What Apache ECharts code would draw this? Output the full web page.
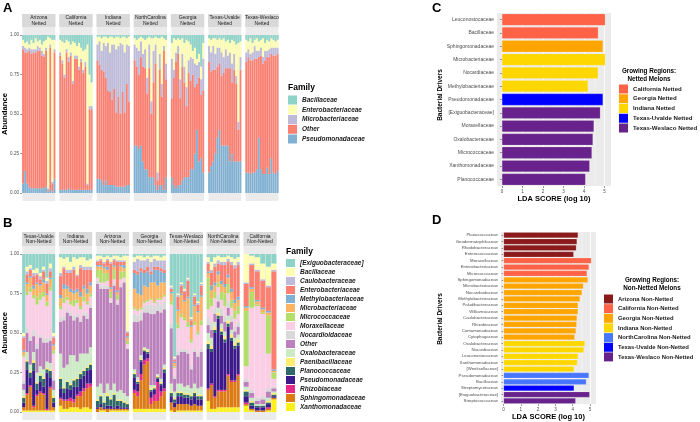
<!DOCTYPE html>
<html><head><meta charset="utf-8">
<script src="https://cdn.jsdelivr.net/npm/echarts@6/dist/echarts.min.js"></script>
<style>html,body{margin:0;padding:0;background:#fff}#c{width:700px;height:422px}</style>
</head><body><div id="c"></div><script>
// ---------- Panel A data: each bar = [Bacillaceae, Enterobacteriaceae, Microbacteriaceae, Other, Pseudomonadaceae]
const familiesA = ['Bacillaceae','Enterobacteriaceae','Microbacteriaceae','Other','Pseudomonadaceae'];
const colorsA = ['#8DD3C7','#FFFFB3','#BEBADA','#FB8072','#80B1D3'];
const facetsA = ['Arizona\nNetted','California\nNetted','Indiana\nNetted','NorthCarolina\nNetted','Georgia\nNetted','Texas-Uvalde\nNetted','Texas-Weslaco\nNetted'];
const aArizona = [[0.03,0.04,0.02,0.85,0.06],[0.05,0.03,0.03,0.75,0.14],[0.04,0.05,0.02,0.83,0.06],[0.06,0.02,0.02,0.86,0.04],[0.03,0.06,0.03,0.85,0.03],[0.05,0.04,0.02,0.86,0.03],[0.02,0.07,0.02,0.86,0.03],[0.04,0.03,0.03,0.87,0.03],[0.03,0.05,0.02,0.87,0.03],[0.06,0.04,0.03,0.84,0.03],[0.04,0.08,0.02,0.83,0.03],[0.03,0.05,0.02,0.86,0.04],[0.01,0.96,0.01,0.01,0.01],[0.02,0.04,0.02,0.90,0.02],[0.03,0.90,0.01,0.05,0.01],[0.03,0.06,0.02,0.80,0.09]];
const aCalifornia = [[0.03,0.08,0.02,0.85,0.02],[0.04,0.12,0.02,0.80,0.02],[0.05,0.20,0.02,0.71,0.02],[0.03,0.06,0.02,0.87,0.02],[0.04,0.10,0.03,0.80,0.03],[0.06,0.05,0.02,0.85,0.02],[0.04,0.25,0.02,0.67,0.02],[0.05,0.08,0.02,0.83,0.02],[0.07,0.06,0.02,0.83,0.02],[0.05,0.15,0.02,0.76,0.02],[0.08,0.07,0.02,0.81,0.02],[0.10,0.12,0.02,0.74,0.02],[0.09,0.08,0.03,0.78,0.02],[0.06,0.88,0.01,0.03,0.02],[0.25,0.20,0.02,0.51,0.02],[0.30,0.15,0.02,0.51,0.02]];
const aIndiana = [[0.01,0.05,0.10,0.75,0.09],[0.01,0.03,0.15,0.72,0.09],[0.02,0.08,0.12,0.70,0.08],[0.01,0.04,0.18,0.72,0.05],[0.01,0.06,0.20,0.65,0.08],[0.02,0.03,0.30,0.60,0.05],[0.01,0.10,0.25,0.59,0.05],[0.01,0.05,0.35,0.54,0.05],[0.02,0.04,0.28,0.61,0.05],[0.01,0.08,0.40,0.47,0.04],[0.01,0.06,0.32,0.57,0.04],[0.02,0.03,0.45,0.46,0.04],[0.01,0.05,0.30,0.60,0.04],[0.01,0.10,0.38,0.47,0.04],[0.02,0.04,0.25,0.64,0.05],[0.01,0.06,0.35,0.53,0.05]];
const aNorthCarolina = [[0.02,0.04,0.10,0.54,0.30],[0.03,0.05,0.12,0.50,0.30],[0.02,0.08,0.15,0.47,0.28],[0.01,0.03,0.10,0.56,0.30],[0.02,0.10,0.08,0.60,0.20],[0.03,0.06,0.12,0.64,0.15],[0.02,0.25,0.10,0.48,0.15],[0.01,0.05,0.15,0.69,0.10],[0.02,0.40,0.08,0.40,0.10],[0.02,0.08,0.20,0.60,0.10],[0.01,0.05,0.12,0.77,0.05],[0.02,0.85,0.05,0.06,0.02],[0.02,0.10,0.10,0.73,0.05],[0.01,0.30,0.08,0.56,0.05],[0.02,0.05,0.03,0.88,0.02],[0.03,0.15,0.10,0.62,0.10]];
const aGeorgia = [[0.05,0.10,0.25,0.50,0.10],[0.02,0.20,0.05,0.68,0.05],[0.03,0.08,0.06,0.80,0.03],[0.02,0.05,0.05,0.83,0.05],[0.03,0.25,0.12,0.55,0.05],[0.02,0.10,0.08,0.72,0.08],[0.05,0.15,0.10,0.60,0.10],[0.03,0.30,0.12,0.45,0.10],[0.04,0.12,0.08,0.66,0.10],[0.06,0.08,0.15,0.56,0.15],[0.10,0.05,0.10,0.60,0.15],[0.08,0.10,0.15,0.42,0.25],[0.15,0.04,0.12,0.29,0.40],[0.12,0.05,0.10,0.53,0.20],[0.20,0.08,0.10,0.40,0.22],[0.05,0.10,0.20,0.52,0.13]];
const aTexasUvalde = [[0.02,0.05,0.10,0.70,0.13],[0.03,0.08,0.12,0.60,0.17],[0.02,0.05,0.15,0.58,0.20],[0.02,0.10,0.10,0.53,0.25],[0.03,0.05,0.12,0.45,0.35],[0.02,0.06,0.10,0.42,0.40],[0.03,0.08,0.15,0.44,0.30],[0.02,0.12,0.10,0.46,0.30],[0.04,0.05,0.12,0.49,0.30],[0.03,0.10,0.08,0.49,0.30],[0.05,0.06,0.10,0.59,0.20],[0.03,0.15,0.12,0.45,0.25],[0.04,0.08,0.10,0.58,0.20],[0.06,0.20,0.05,0.49,0.20],[0.05,0.50,0.05,0.20,0.20],[0.04,0.10,0.08,0.58,0.20]];
const aTexasWeslaco = [[0.03,0.08,0.06,0.70,0.13],[0.04,0.05,0.05,0.73,0.13],[0.02,0.10,0.04,0.72,0.12],[0.05,0.06,0.05,0.71,0.13],[0.03,0.04,0.08,0.72,0.13],[0.02,0.08,0.05,0.70,0.15],[0.04,0.06,0.04,0.51,0.35],[0.03,0.05,0.05,0.72,0.15],[0.02,0.12,0.04,0.70,0.12],[0.05,0.05,0.06,0.72,0.12],[0.03,0.07,0.04,0.70,0.16],[0.04,0.05,0.05,0.74,0.12],[0.02,0.06,0.04,0.66,0.22],[0.03,0.05,0.05,0.74,0.13],[0.04,0.04,0.05,0.75,0.12],[0.03,0.05,0.04,0.74,0.14]];

// ---------- Panel B data: each bar = values in familiesB order
const familiesB = ['[Exiguobacteraceae]','Bacillaceae','Caulobacteraceae','Enterobacteriaceae','Methylobacteriaceae','Microbacteriaceae','Micrococcaceae','Moraxellaceae','Nocardioidaceae','Other','Oxalobacteraceae','Paenibacillaceae','Planococcaceae','Pseudomonadaceae','Rhizobiaceae','Sphingomonadaceae','Xanthomonadaceae'];
const colorsB = ['#8DD3C7','#FFFFB3','#BEBADA','#FB8072','#80B1D3','#FDB462','#B3DE69','#FCCDE5','#D9D9D9','#BC80BD','#CCEBC5','#FFED6F','#2F6868','#3D1A8C','#E7298A','#DE7A13','#FCF11A'];
const facetsB = ['Texas-Uvalde\nNon-Netted','Indiana\nNon-Netted','Arizona\nNon-Netted','Georgia\nNon-Netted','Texas-Weslaco\nNon-Netted','NorthCarolina\nNon-Netted','California\nNon-Netted'];
const bTexasUvalde = [
[0.50,0.02,0.01,0.08,0.01,0.02,0.01,0.15,0.02,0.04,0.04,0.01,0.03,0.03,0.00,0.02,0.01],
[0.08,0.03,0.02,0.05,0.01,0.05,0.02,0.20,0.04,0.12,0.05,0.01,0.05,0.15,0.01,0.10,0.01],
[0.07,0.02,0.01,0.04,0.01,0.06,0.03,0.28,0.03,0.15,0.04,0.01,0.03,0.05,0.01,0.15,0.01],
[0.10,0.02,0.02,0.06,0.02,0.04,0.02,0.20,0.04,0.10,0.05,0.02,0.05,0.22,0.01,0.02,0.01],
[0.09,0.03,0.01,0.05,0.01,0.08,0.05,0.25,0.03,0.15,0.06,0.01,0.04,0.03,0.01,0.09,0.01],
[0.12,0.02,0.02,0.03,0.01,0.05,0.04,0.22,0.02,0.18,0.05,0.01,0.04,0.06,0.01,0.11,0.01],
[0.08,0.02,0.01,0.05,0.02,0.06,0.03,0.26,0.03,0.17,0.05,0.01,0.05,0.04,0.01,0.10,0.01],
[0.15,0.02,0.02,0.06,0.01,0.04,0.03,0.20,0.03,0.12,0.04,0.01,0.02,0.23,0.01,0.00,0.01],
[0.06,0.03,0.02,0.04,0.01,0.05,0.02,0.30,0.02,0.14,0.04,0.01,0.04,0.06,0.01,0.14,0.01],
[0.50,0.02,0.01,0.04,0.01,0.03,0.02,0.15,0.02,0.06,0.04,0.01,0.03,0.03,0.00,0.02,0.01]];
const bIndiana = [
[0.02,0.10,0.02,0.12,0.02,0.05,0.02,0.05,0.03,0.20,0.15,0.01,0.06,0.06,0.01,0.04,0.04],
[0.03,0.05,0.01,0.10,0.03,0.06,0.03,0.08,0.03,0.30,0.12,0.01,0.03,0.04,0.01,0.05,0.02],
[0.02,0.08,0.02,0.08,0.02,0.05,0.02,0.06,0.02,0.33,0.10,0.01,0.04,0.07,0.01,0.05,0.02],
[0.05,0.05,0.02,0.10,0.02,0.06,0.02,0.05,0.02,0.25,0.18,0.01,0.03,0.05,0.02,0.04,0.03],
[0.02,0.06,0.02,0.13,0.02,0.04,0.04,0.06,0.03,0.22,0.15,0.01,0.04,0.08,0.02,0.03,0.03],
[0.03,0.10,0.01,0.08,0.02,0.05,0.02,0.07,0.02,0.28,0.10,0.01,0.05,0.05,0.01,0.07,0.03],
[0.02,0.05,0.02,0.15,0.03,0.06,0.02,0.06,0.02,0.20,0.12,0.01,0.03,0.08,0.03,0.08,0.02],
[0.02,0.06,0.02,0.10,0.02,0.05,0.03,0.07,0.02,0.24,0.10,0.01,0.03,0.08,0.02,0.10,0.03],
[0.04,0.04,0.02,0.12,0.03,0.05,0.02,0.06,0.03,0.22,0.08,0.01,0.02,0.08,0.03,0.12,0.03],
[0.03,0.05,0.02,0.08,0.02,0.05,0.02,0.05,0.02,0.25,0.10,0.01,0.03,0.09,0.02,0.14,0.02]];
const bArizona = [
[0.01,0.03,0.01,0.02,0.01,0.02,0.05,0.02,0.02,0.65,0.08,0.01,0.04,0.01,0.00,0.02,0.00],
[0.01,0.02,0.01,0.03,0.01,0.02,0.08,0.02,0.02,0.60,0.07,0.01,0.05,0.02,0.00,0.02,0.01],
[0.02,0.03,0.01,0.02,0.01,0.03,0.06,0.02,0.02,0.66,0.05,0.01,0.03,0.01,0.00,0.01,0.01],
[0.01,0.02,0.01,0.04,0.02,0.02,0.05,0.03,0.02,0.60,0.06,0.02,0.06,0.02,0.00,0.02,0.00],
[0.02,0.03,0.01,0.15,0.01,0.02,0.04,0.02,0.01,0.55,0.05,0.01,0.04,0.02,0.00,0.01,0.01],
[0.01,0.02,0.01,0.03,0.01,0.02,0.06,0.02,0.02,0.62,0.06,0.01,0.08,0.01,0.00,0.01,0.01],
[0.01,0.03,0.01,0.18,0.01,0.02,0.03,0.02,0.01,0.55,0.05,0.01,0.03,0.02,0.00,0.01,0.01],
[0.02,0.02,0.01,0.02,0.01,0.03,0.05,0.03,0.02,0.65,0.06,0.01,0.04,0.01,0.00,0.01,0.01],
[0.01,0.03,0.01,0.02,0.02,0.02,0.04,0.02,0.01,0.70,0.05,0.01,0.03,0.01,0.00,0.01,0.01],
[0.01,0.48,0.01,0.02,0.01,0.02,0.02,0.02,0.01,0.30,0.04,0.01,0.02,0.01,0.00,0.01,0.01]];
const bGeorgia = [
[0.02,0.03,0.05,0.02,0.10,0.12,0.01,0.03,0.05,0.30,0.02,0.01,0.02,0.08,0.02,0.10,0.02],
[0.01,0.02,0.08,0.02,0.12,0.10,0.01,0.03,0.04,0.35,0.02,0.01,0.01,0.05,0.03,0.08,0.02],
[0.01,0.03,0.05,0.02,0.15,0.08,0.01,0.02,0.05,0.22,0.02,0.01,0.01,0.08,0.04,0.18,0.02],
[0.02,0.02,0.06,0.02,0.08,0.10,0.01,0.02,0.04,0.22,0.01,0.01,0.01,0.05,0.03,0.28,0.02],
[0.01,0.02,0.05,0.03,0.10,0.08,0.01,0.02,0.05,0.23,0.01,0.01,0.01,0.03,0.02,0.30,0.02],
[0.02,0.03,0.06,0.02,0.05,0.10,0.01,0.03,0.06,0.45,0.02,0.01,0.01,0.04,0.04,0.03,0.02],
[0.01,0.02,0.05,0.02,0.08,0.12,0.01,0.02,0.05,0.45,0.01,0.01,0.01,0.03,0.04,0.05,0.02],
[0.01,0.03,0.04,0.02,0.10,0.08,0.01,0.02,0.05,0.40,0.01,0.01,0.01,0.02,0.12,0.05,0.02],
[0.02,0.02,0.05,0.02,0.07,0.10,0.01,0.03,0.05,0.42,0.02,0.01,0.01,0.04,0.03,0.08,0.02],
[0.01,0.03,0.06,0.02,0.06,0.08,0.01,0.03,0.05,0.35,0.02,0.01,0.02,0.10,0.02,0.11,0.02]];
const bTexasWeslaco = [
[0.20,0.01,0.01,0.02,0.01,0.05,0.02,0.12,0.03,0.35,0.05,0.01,0.02,0.04,0.00,0.05,0.01],
[0.65,0.01,0.01,0.01,0.01,0.02,0.01,0.05,0.02,0.08,0.04,0.01,0.02,0.03,0.00,0.03,0.00],
[0.25,0.01,0.01,0.08,0.01,0.08,0.03,0.15,0.02,0.18,0.05,0.01,0.02,0.05,0.00,0.04,0.01],
[0.18,0.01,0.01,0.05,0.01,0.12,0.02,0.20,0.02,0.20,0.05,0.01,0.02,0.05,0.00,0.04,0.01],
[0.22,0.01,0.01,0.05,0.01,0.10,0.02,0.18,0.02,0.22,0.04,0.01,0.02,0.04,0.00,0.04,0.01],
[0.15,0.01,0.01,0.10,0.01,0.15,0.03,0.15,0.02,0.20,0.05,0.01,0.02,0.04,0.00,0.04,0.01],
[0.40,0.01,0.01,0.03,0.01,0.08,0.02,0.15,0.02,0.12,0.04,0.01,0.02,0.04,0.00,0.03,0.01],
[0.25,0.01,0.01,0.05,0.01,0.10,0.02,0.15,0.02,0.20,0.05,0.01,0.02,0.05,0.00,0.04,0.01],
[0.30,0.01,0.01,0.04,0.01,0.12,0.02,0.12,0.02,0.20,0.04,0.01,0.02,0.04,0.00,0.03,0.01],
[0.18,0.01,0.01,0.06,0.01,0.15,0.03,0.15,0.02,0.22,0.05,0.01,0.02,0.04,0.00,0.03,0.01]];
const bNorthCarolina = [
[0.02,0.03,0.01,0.05,0.01,0.03,0.20,0.05,0.05,0.05,0.05,0.02,0.03,0.25,0.01,0.07,0.07],
[0.05,0.05,0.02,0.08,0.03,0.05,0.05,0.10,0.05,0.05,0.05,0.02,0.02,0.20,0.01,0.15,0.02],
[0.02,0.04,0.02,0.10,0.02,0.04,0.04,0.06,0.04,0.05,0.03,0.02,0.02,0.40,0.01,0.07,0.02],
[0.01,0.03,0.02,0.05,0.02,0.05,0.03,0.05,0.04,0.04,0.03,0.02,0.02,0.45,0.01,0.10,0.03],
[0.02,0.03,0.02,0.10,0.02,0.05,0.05,0.05,0.05,0.05,0.03,0.02,0.02,0.35,0.01,0.10,0.03],
[0.02,0.03,0.02,0.12,0.02,0.04,0.08,0.06,0.04,0.06,0.03,0.02,0.02,0.30,0.01,0.10,0.03],
[0.01,0.02,0.02,0.08,0.02,0.04,0.06,0.05,0.04,0.05,0.03,0.02,0.02,0.30,0.01,0.20,0.03],
[0.02,0.03,0.02,0.15,0.02,0.05,0.05,0.05,0.04,0.05,0.03,0.02,0.02,0.25,0.01,0.16,0.03],
[0.03,0.04,0.02,0.20,0.02,0.05,0.05,0.05,0.03,0.04,0.03,0.02,0.02,0.20,0.01,0.16,0.03],
[0.02,0.03,0.02,0.20,0.02,0.04,0.05,0.05,0.03,0.05,0.03,0.02,0.02,0.18,0.01,0.20,0.03]];
const bCalifornia = [
[0.00,0.18,0.01,0.14,0.01,0.02,0.35,0.08,0.02,0.03,0.02,0.01,0.03,0.04,0.01,0.01,0.04],
[0.01,0.05,0.01,0.14,0.01,0.02,0.10,0.52,0.02,0.03,0.02,0.01,0.02,0.02,0.00,0.01,0.01],
[0.02,0.08,0.01,0.18,0.01,0.02,0.01,0.58,0.02,0.02,0.01,0.00,0.01,0.02,0.00,0.01,0.00],
[0.06,0.10,0.01,0.17,0.01,0.02,0.01,0.52,0.02,0.03,0.01,0.00,0.01,0.02,0.00,0.01,0.00],
[0.08,0.12,0.01,0.15,0.01,0.02,0.24,0.22,0.02,0.04,0.02,0.01,0.01,0.02,0.01,0.01,0.01],
[0.06,0.04,0.01,0.62,0.01,0.01,0.04,0.05,0.01,0.02,0.01,0.01,0.01,0.01,0.00,0.01,0.08]];

// ---------- Panel C data
const cRegions = ['California Netted','Georgia Netted','Indiana Netted','Texas-Uvalde Netted','Texas-Weslaco Netted'];
const cColors = ['#FF6347','#FFA500','#FFD700','#0000FF','#68228B'];
const cTaxa = ['Leuconostocaceae','Bacillaceae','Sphingomonadaceae','Microbacteriaceae','Nocardiaceae','Methylobacteriaceae','Pseudomonadaceae','[Exiguobacteraceae]','Moraxellaceae','Oxalobacteraceae','Micrococcaceae','Xanthomonadaceae','Planococcaceae'];
const cScores = [5.03,4.69,4.92,5.03,4.68,4.19,4.92,4.79,4.48,4.43,4.38,4.27,4.07];
const cRegionOf = [0,0,1,2,2,2,3,4,4,4,4,4,4];

// ---------- Panel D data
const dRegions = ['Arizona Non-Netted','California Non-Netted','Georgia Non-Netted','Indiana Non-Netted','NorthCarolina Non-Netted','Texas-Uvalde Non-Netted','Texas-Weslaco Non-Netted'];
const dColors = ['#8B1A1A','#FF6347','#FFA500','#FFD700','#4876FF','#0000FF','#68228B'];
const dTaxa = ['Planococcaceae','Geodermatophilaceae','Rhodobacteraceae','Enterococcaceae','Moraxellaceae','Enterobacteriaceae','Micrococcaceae','Sphingomonadaceae','Microbacteriaceae','Nocardioidaceae','Methylobacteriaceae','Paludibacteraceae','Williamsiaceae','Caulobacteraceae','Rhizobiaceae','Comamonadaceae','Cytophagaceae','Oxalobacteraceae','Nocardiaceae','Leuconostocaceae','Xanthomonadaceae','[Weeksellaceae]','Pseudomonadaceae','Bacillaceae','Streptomycetaceae','[Exiguobacteraceae]','Streptococcaceae'];
const dScores = [4.31,4.25,4.21,4.06,5.08,4.94,4.83,4.88,4.62,4.54,4.42,4.31,4.31,4.25,4.23,4.19,4.12,4.71,4.65,4.31,4.27,4.08,4.94,4.79,4.08,4.98,4.17];
const dRegionOf = [0,0,0,0,1,1,1,2,2,2,2,2,2,2,2,2,2,3,3,3,3,3,4,4,5,6,6];

const ldaTicks = [0,1,2,3,4,5];
const ldaGrid = [0,0.5,1,1.5,2,2.5,3,3.5,4,4.5,5];
const abundTicks = [0,0.25,0.5,0.75,1];

// ---------- build
const FONT = '"Liberation Sans", Arial, sans-serif';
const grids=[], xAxes=[], yAxes=[], series=[], graphics=[];

function addFacets(panel, names, data, families, colors, x0, step, w, top, h, stripTop, stripH, lineH){
  names.forEach((nm,i)=>{
    const gi = grids.length, left = x0 + i*step, bars = data[i];
    grids.push({left:left, top:top, width:w, height:h, show:true, backgroundColor:'#EBEBEB', borderWidth:0});
    xAxes.push({type:'category', gridIndex:gi, data:bars.map((_,k)=>panel+i+'_'+k),
      axisLabel:{show:false}, axisTick:{show:false}, axisLine:{show:false},
      splitLine:{show:true, lineStyle:{color:'#FFFFFF', width:0.5}}});
    yAxes.push({type:'value', gridIndex:gi, min:-0.05, max:1.05, axisLine:{show:false}, splitLine:{show:false},
      axisLabel:{show:i===0, customValues:abundTicks, formatter:v=>v.toFixed(2), fontSize:4.6, color:'#4D4D4D', margin:3, fontFamily:FONT},
      axisTick:{show:i===0, customValues:abundTicks, length:2, lineStyle:{color:'#333', width:0.5}}});
    for(let j=families.length-1;j>=0;j--){
      series.push({type:'bar', name:panel+'|'+families[j], xAxisIndex:gi, yAxisIndex:gi, stack:panel+i,
        barCategoryGap:'10%', data:bars.map(b=>b[j]), itemStyle:{color:colors[j]}, silent:true});
    }
    graphics.push({type:'rect', shape:{x:left, y:stripTop, width:w, height:stripH}, style:{fill:'#D9D9D9'}});
    graphics.push({type:'text', x:left+w/2, y:stripTop+stripH/2+0.3, style:{text:nm, textAlign:'center', textVerticalAlign:'middle',
      fontSize:5, fontFamily:FONT, fill:'#1A1A1A', lineHeight:lineH}});
  });
}
addFacets('A', facetsA, [aArizona,aCalifornia,aIndiana,aNorthCarolina,aGeorgia,aTexasUvalde,aTexasWeslaco], familiesA, colorsA, 22, 37.2, 33.5, 27.1, 173.8, 14, 13, 5.5);
addFacets('B', facetsB, [bTexasUvalde,bIndiana,bArizona,bGeorgia,bTexasWeslaco,bNorthCarolina,bCalifornia], familiesB, colorsB, 22, 36.9, 33.3, 246.1, 173.8, 232, 14, 5.4);

function addLda(taxa, scores, regionOf, regions, colors, grid, xmin, xmax, nameGap, labelSize){
  const gi = grids.length;
  grids.push(Object.assign({show:true, backgroundColor:'#EBEBEB', borderWidth:0}, grid));
  xAxes.push({type:'value', gridIndex:gi, min:xmin, max:xmax, splitLine:{show:false}, axisLine:{show:false},
    axisTick:{show:true, customValues:ldaTicks, length:2, lineStyle:{color:'#333', width:0.5}},
    axisLabel:{customValues:ldaTicks, fontSize:4.6, color:'#4D4D4D', margin:3, fontFamily:FONT},
    name:'LDA SCORE (log 10)', nameLocation:'middle', nameGap:nameGap,
    nameTextStyle:{fontSize:7.5, fontWeight:'bold', color:'#000', fontFamily:FONT}});
  yAxes.push({type:'category', gridIndex:gi, data:taxa, inverse:true, axisLine:{show:false},
    axisTick:{show:true, length:2, alignWithLabel:true, interval:0, lineStyle:{color:'#333', width:0.5}},
    axisLabel:{interval:0, fontSize:labelSize, color:'#4D4D4D', margin:3, fontFamily:FONT}, splitLine:{show:false}});
  series.push({type:'line', xAxisIndex:gi, yAxisIndex:gi, data:[], z:1, silent:true,
    markLine:{silent:true, symbol:'none', animation:false, label:{show:false}, z:1,
      data: ldaGrid.map(v=>({xAxis:v, lineStyle:{color:'#FFFFFF', type:'solid', width:(v%1===0)?0.8:0.4}}))}});
  regions.forEach((r,ri)=>{
    series.push({type:'bar', name:r, xAxisIndex:gi, yAxisIndex:gi, barGap:'-100%', barCategoryGap:'12%', z:6,
      data:scores.map((v,k)=>regionOf[k]===ri? v : '-'),
      itemStyle:{color:colors[ri], borderColor:'rgba(255,255,255,0.4)', borderWidth:0.4}, silent:true});
  });
}
addLda(cTaxa, cScores, cRegionOf, cRegions, cColors, {left:497, top:13, width:114, height:173}, -0.24, 5.31, 9, 5);
addLda(dTaxa, dScores, dRegionOf, dRegions, dColors, {left:501, top:232, width:95, height:174}, -0.15, 5.35, 8, 4.3);

// ---------- texts
function txt(x,y,text,size,opts){
  opts = opts||{};
  graphics.push({type:'text', x:x, y:y, rotation:opts.rot||0, style:Object.assign({text:text, textAlign:opts.align||'left', textVerticalAlign:'middle',
    fontSize:size, fontWeight:'bold', fontFamily:FONT, fill:'#000', lineHeight:opts.lh||size*1.2}, opts.style||{})});
}
txt(3,8,'A',13); txt(3,223,'B',13); txt(432,8,'C',13); txt(432,220,'D',13);
txt(4.5,114,'Abundance',7.7,{align:'center',rot:Math.PI/2});
txt(4.5,333,'Abundance',7.7,{align:'center',rot:Math.PI/2});
txt(440,95,'Bacterial Drivers',6.5,{align:'center',rot:Math.PI/2});
txt(440,319,'Bacterial Drivers',6.5,{align:'center',rot:Math.PI/2});
txt(288,88,'Family',8.5); txt(286,252,'Family',8.5);
txt(649,75,'Growing Regions:\nNetted Melons',6.3,{align:'center',lh:8});
txt(652,284.5,'Growing Regions:\nNon-Netted Melons',6.3,{align:'center',lh:8});

const legTxt = {fontWeight:'bold', fontFamily:FONT, color:'#1A1A1A'};
const option = {
  animation:false,
  backgroundColor:'#FFFFFF',
  grid:grids, xAxis:xAxes, yAxis:yAxes, series:series, graphic:graphics,
  legend:[
    {data:familiesA.map(f=>'A|'+f), formatter:n=>n.split('|')[1], orient:'vertical', left:288, top:95.5, padding:0,
     itemWidth:9, itemHeight:9, itemGap:0.75, icon:'rect', selectedMode:false, itemStyle:{borderWidth:0},
     textStyle:Object.assign({fontSize:6.5, fontStyle:'italic', lineHeight:9}, legTxt)},
    {data:familiesB.map(f=>'B|'+f), formatter:n=>n.split('|')[1], orient:'vertical', left:286, top:259, padding:0,
     itemWidth:9, itemHeight:8, itemGap:1, icon:'rect', selectedMode:false, itemStyle:{borderWidth:0},
     textStyle:Object.assign({fontSize:6.5, fontStyle:'italic', lineHeight:8}, legTxt)},
    {data:cRegions, orient:'vertical', left:619, top:84.5, padding:0, itemWidth:9, itemHeight:9, itemGap:0.75,
     icon:'rect', selectedMode:false, itemStyle:{borderWidth:0}, textStyle:Object.assign({fontSize:6.1, lineHeight:9}, legTxt)},
    {data:dRegions, orient:'vertical', left:604, top:294.5, padding:0, itemWidth:9, itemHeight:9, itemGap:0.65,
     icon:'rect', selectedMode:false, itemStyle:{borderWidth:0}, textStyle:Object.assign({fontSize:5.9, lineHeight:9}, legTxt)}
  ]
};
const chart = echarts.init(document.getElementById('c'));
chart.setOption(option);
</script></body></html>
